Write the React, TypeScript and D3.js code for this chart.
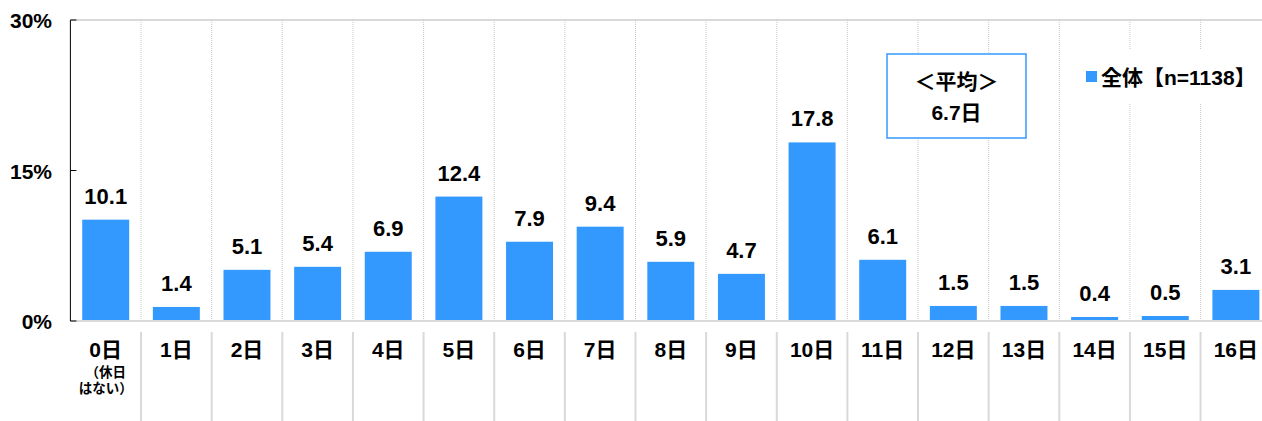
import React from "react";
import * as d3 from "d3";

const categories = ["0日","1日","2日","3日","4日","5日","6日","7日","8日","9日","10日","11日","12日","13日","14日","15日","16日"];
const values = [10.1,1.4,5.1,5.4,6.9,12.4,7.9,9.4,5.9,4.7,17.8,6.1,1.5,1.5,0.4,0.5,3.1];
const yTicks = [0, 15, 30];
const subLabel = ["（休日", "はない）"];
const seriesName = "全体【n=1138】";
const avgLines = ["＜平均＞", "6.7日"];

const W = 1262, H = 421;
const left = 70.4, right = 1271.2, top = 20, bottom = 321;
const FONT = "'Liberation Sans', 'Noto Sans CJK JP', sans-serif";
const BLUE = "#3399ff";

export default function App() {
  const x = d3.scaleBand<string>().domain(categories).range([left, right]).paddingInner(0.335).paddingOuter(0.1675);
  const y = d3.scaleLinear().domain([0, 30]).range([bottom, top]);
  const step = x.step();
  const bounds = d3.range(1, categories.length).map((i) => left + i * step);
  const cx = (c: string) => (x(c) as number) + x.bandwidth() / 2;
  return (
    <div style={{ position: "absolute", left: 0, top: 0 }}>
      <svg width={W} height={H} style={{ display: "block", fontFamily: FONT }}>
        <rect width={W} height={H} fill="#fff" />
        <line x1={left} x2={right} y1={y(30)} y2={y(30)} stroke="#d9d9d9" strokeWidth={2} />
        {bounds.map((bx, i) => (
          <line key={i} x1={bx} x2={bx} y1={y(30)} y2={y(0)} stroke="#c8c8c8" strokeWidth={1} strokeDasharray="1,1" />
        ))}
        {bounds.map((bx, i) => (
          <line key={"s" + i} x1={bx} x2={bx} y1={332} y2={H} stroke="#d9d9d9" strokeWidth={2} />
        ))}
        {values.map((v, i) => (
          <rect key={i} x={x(categories[i])} y={y(v)} width={x.bandwidth()} height={y(0) - y(v)} fill={BLUE} />
        ))}
        <line x1={left} x2={right} y1={y(0)} y2={y(0)} stroke="#d9d9d9" strokeWidth={2} />
        <line x1={left} x2={left} y1={y(30)} y2={y(0)} stroke="#000" strokeWidth={1} />
        {yTicks.map((t) => (
          <g key={t}>
            <line x1={left} x2={left + 6} y1={y(t)} y2={y(t)} stroke="#000" strokeWidth={1} />
            <text x={52} y={y(t) + 8} textAnchor="end" fontSize={21} fontWeight={700} fill="#000">{t}%</text>
          </g>
        ))}
        {values.map((v, i) => (
          <text key={i} x={cx(categories[i])} y={y(v) - 16} textAnchor="middle" fontSize={22} fontWeight={700} fill="#000">
            {v.toFixed(1)}
          </text>
        ))}
        {categories.map((c) => (
          <text key={c} x={cx(c)} y={357} textAnchor="middle" fontSize={21} fontWeight={700} fill="#000">
            {c}
          </text>
        ))}
        {subLabel.map((s, i) => (
          <text key={s} x={cx(categories[0])} y={377 + i * 16} textAnchor="middle" fontSize={13.5} fontWeight={700} fill="#000">
            {s}
          </text>
        ))}
        <rect x={887} y={54} width={139} height={84} fill="#fff" stroke={BLUE} strokeWidth={1.5} />
        <text x={956.5} y={89} textAnchor="middle" fontSize={21} fontWeight={700}>{avgLines[0]}</text>
        <text x={956.5} y={120} textAnchor="middle" fontSize={21} fontWeight={700}>{avgLines[1]}</text>
        <rect x={1076} y={50} width={200} height={53} fill="#fff" />
        <rect x={1086} y={71} width={11} height={11} fill={BLUE} />
        <text x={1101} y={85} fontSize={21} fontWeight={700}>{seriesName}</text>
      </svg>
    </div>
  );
}
